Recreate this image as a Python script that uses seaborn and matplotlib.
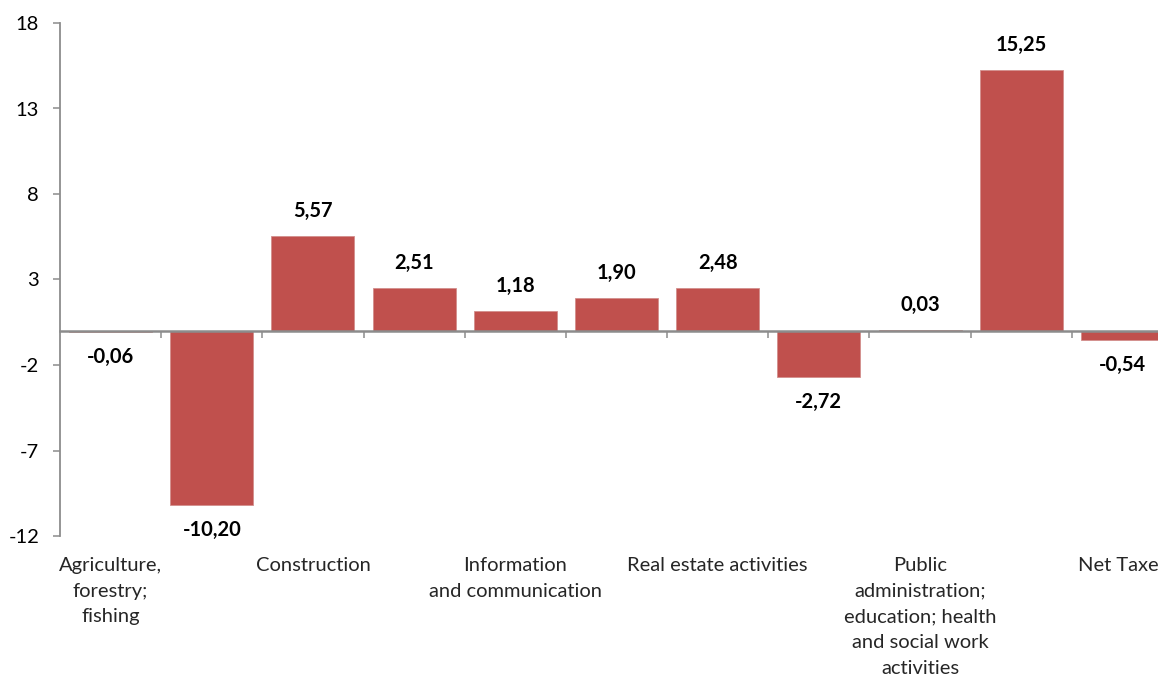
import matplotlib
matplotlib.use('Agg')
import matplotlib.pyplot as plt
import seaborn as sns
import pandas as pd

# sectors (every second label is hidden in the original chart)
categories = [
    'Agriculture, forestry; fishing',
    'Industry',
    'Construction',
    'Trade, transport, accommodation and food services',
    'Information and communication',
    'Financial and insurance activities',
    'Real estate activities',
    'Professional, scientific, technical and support activities',
    'Public administration; education; health and social work activities',
    'Arts, entertainment and other services',
    'Net Taxes',
]
shown_labels = [
    'Agriculture,\nforestry;\nfishing',
    '',
    'Construction',
    '',
    'Information\nand communication',
    '',
    'Real estate activities',
    '',
    'Public\nadministration;\neducation; health\nand social work\nactivities',
    '',
    'Net Taxes',
]
values = [-0.06, -10.20, 5.57, 2.51, 1.18, 1.90, 2.48, -2.72, 0.03, 15.25, -0.54]
y_ticks = [-12, -7, -2, 3, 8, 13, 18]

sns.set_style('white')
plt.rcParams['font.family'] = ['Lato', 'DejaVu Sans']
plt.rcParams['axes.unicode_minus'] = False

df = pd.DataFrame({'sector': categories, 'value': values})

fig = plt.figure(figsize=(11.58, 6.79), dpi=100)
ax = fig.add_axes([60 / 1158, 1 - 536 / 679, 1113 / 1158, 513 / 679])

sns.barplot(data=df, x='sector', y='value', color='#C0504D', saturation=1,
            width=0.82, edgecolor='#D38E8C', linewidth=0.6, ax=ax)

ax.set_xlim(-0.5, len(categories) - 0.5)
ax.set_ylim(y_ticks[0], y_ticks[-1])
ax.set_yticks(y_ticks)
ax.set_xlabel('')
ax.set_ylabel('')

axis_grey = '#8C8C8C'
for side in ['top', 'right']:
    ax.spines[side].set_visible(False)
ax.spines['left'].set_color(axis_grey)
ax.spines['left'].set_linewidth(1.3)
ax.spines['bottom'].set_position(('data', 0))
ax.spines['bottom'].set_color(axis_grey)
ax.spines['bottom'].set_linewidth(1.8)

ax.tick_params(axis='y', direction='out', length=5, width=1.1, color=axis_grey,
               left=True, pad=10, labelsize=14.5, labelcolor='black')
ax.set_xticks(range(len(categories)))
ax.set_xticklabels([''] * len(categories))
ax.set_xticks([i + 0.5 for i in range(len(categories))], minor=True)
ax.tick_params(axis='x', which='major', length=0, bottom=False)
ax.tick_params(axis='x', which='minor', direction='out', length=5, width=1.1,
               color=axis_grey, bottom=True)

# category names sit under the plot, not at the zero line
sec = ax.secondary_xaxis('bottom')
sec.set_xticks(range(len(categories)))
sec.set_xticklabels(shown_labels, fontsize=14.5, linespacing=1.62)
sec.spines['bottom'].set_visible(False)
sec.tick_params(axis='x', length=0, pad=15)

for i, v in enumerate(values):
    off = 18 if v >= 0 else -18
    ax.annotate(f'{v:.2f}'.replace('.', ','), (i, v), xytext=(0, off),
                textcoords='offset points', ha='center', va='center',
                fontsize=14.5, fontweight='bold', color='black')

fig.savefig('out.png', dpi=100)
